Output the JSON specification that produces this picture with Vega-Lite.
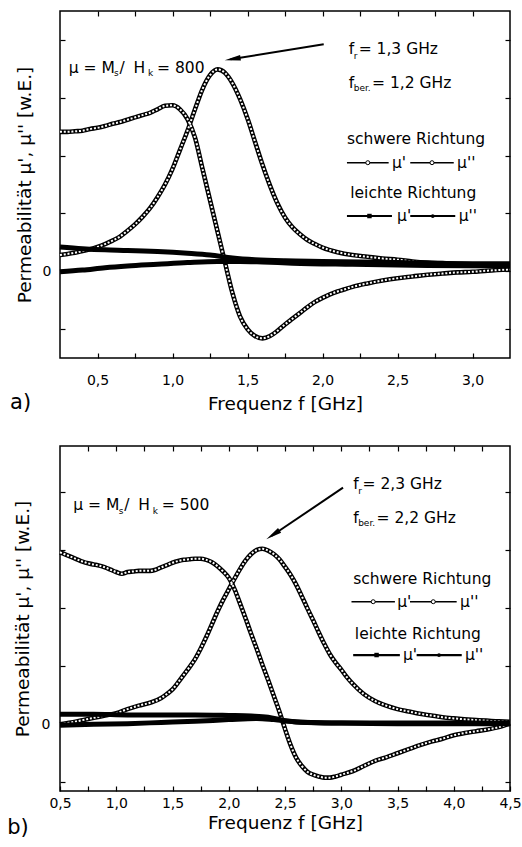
{
"$schema": "https://vega.github.io/schema/vega-lite/v6.json",
"padding": {"left": 6, "top": 9, "right": 5, "bottom": 5},
"autosize": {"type": "pad"},
"bounds": "flush",
"spacing": 88,
"config": {
  "font": "DejaVu Sans",
  "view": {"stroke": "black", "strokeWidth": 1.5},
  "axis": {"domain": false, "grid": false, "tickColor": "black", "tickWidth": 1.2, "tickSize": -5, "labelColor": "black", "titleColor": "black", "labelFontSize": 14, "titleFontSize": 18.5, "titleFontWeight": "normal", "labelFlush": false, "labelOverlap": false},
  "text": {"color": "black"}
},
"datasets": {
  "a_s": [
    {"c":"m1","f":0.25,"v":2.41},{"c":"m1","f":0.30,"v":2.41},{"c":"m1","f":0.35,"v":2.42},{"c":"m1","f":0.40,"v":2.43},{"c":"m1","f":0.45,"v":2.46},{"c":"m1","f":0.50,"v":2.48},{"c":"m1","f":0.55,"v":2.51},{"c":"m1","f":0.60,"v":2.55},{"c":"m1","f":0.65,"v":2.58},{"c":"m1","f":0.70,"v":2.62},{"c":"m1","f":0.75,"v":2.66},{"c":"m1","f":0.80,"v":2.70},{"c":"m1","f":0.85,"v":2.74},{"c":"m1","f":0.90,"v":2.80},{"c":"m1","f":0.95,"v":2.86},{"c":"m1","f":1.00,"v":2.87},{"c":"m1","f":1.05,"v":2.80},{"c":"m1","f":1.10,"v":2.63},{"c":"m1","f":1.15,"v":2.31},{"c":"m1","f":1.20,"v":1.77},{"c":"m1","f":1.25,"v":1.23},{"c":"m1","f":1.30,"v":0.69},{"c":"m1","f":1.35,"v":0.15},{"c":"m1","f":1.40,"v":-0.38},{"c":"m1","f":1.45,"v":-0.78},{"c":"m1","f":1.50,"v":-1.00},{"c":"m1","f":1.55,"v":-1.12},{"c":"m1","f":1.60,"v":-1.16},{"c":"m1","f":1.65,"v":-1.12},{"c":"m1","f":1.70,"v":-1.03},{"c":"m1","f":1.75,"v":-0.92},{"c":"m1","f":1.80,"v":-0.82},{"c":"m1","f":1.85,"v":-0.72},{"c":"m1","f":1.90,"v":-0.62},{"c":"m1","f":1.95,"v":-0.53},{"c":"m1","f":2.00,"v":-0.46},{"c":"m1","f":2.05,"v":-0.40},{"c":"m1","f":2.10,"v":-0.35},{"c":"m1","f":2.15,"v":-0.31},{"c":"m1","f":2.20,"v":-0.27},{"c":"m1","f":2.30,"v":-0.21},{"c":"m1","f":2.40,"v":-0.16},{"c":"m1","f":2.50,"v":-0.12},{"c":"m1","f":2.60,"v":-0.09},{"c":"m1","f":2.70,"v":-0.06},{"c":"m1","f":2.80,"v":-0.04},{"c":"m1","f":2.90,"v":-0.02},{"c":"m1","f":3.00,"v":-0.01},{"c":"m1","f":3.10,"v":0.01},{"c":"m1","f":3.25,"v":0.03},
    {"c":"m2","f":0.25,"v":0.28},{"c":"m2","f":0.30,"v":0.30},{"c":"m2","f":0.35,"v":0.32},{"c":"m2","f":0.40,"v":0.35},{"c":"m2","f":0.45,"v":0.38},{"c":"m2","f":0.50,"v":0.42},{"c":"m2","f":0.55,"v":0.47},{"c":"m2","f":0.60,"v":0.53},{"c":"m2","f":0.65,"v":0.60},{"c":"m2","f":0.70,"v":0.70},{"c":"m2","f":0.75,"v":0.81},{"c":"m2","f":0.80,"v":0.94},{"c":"m2","f":0.85,"v":1.09},{"c":"m2","f":0.90,"v":1.28},{"c":"m2","f":0.95,"v":1.50},{"c":"m2","f":1.00,"v":1.77},{"c":"m2","f":1.05,"v":2.10},{"c":"m2","f":1.10,"v":2.43},{"c":"m2","f":1.15,"v":2.80},{"c":"m2","f":1.20,"v":3.15},{"c":"m2","f":1.25,"v":3.39},{"c":"m2","f":1.30,"v":3.49},{"c":"m2","f":1.35,"v":3.43},{"c":"m2","f":1.40,"v":3.25},{"c":"m2","f":1.45,"v":2.98},{"c":"m2","f":1.50,"v":2.64},{"c":"m2","f":1.55,"v":2.24},{"c":"m2","f":1.60,"v":1.84},{"c":"m2","f":1.65,"v":1.48},{"c":"m2","f":1.70,"v":1.17},{"c":"m2","f":1.75,"v":0.93},{"c":"m2","f":1.80,"v":0.76},{"c":"m2","f":1.85,"v":0.64},{"c":"m2","f":1.90,"v":0.54},{"c":"m2","f":1.95,"v":0.47},{"c":"m2","f":2.00,"v":0.41},{"c":"m2","f":2.10,"v":0.33},{"c":"m2","f":2.20,"v":0.28},{"c":"m2","f":2.30,"v":0.25},{"c":"m2","f":2.40,"v":0.22},{"c":"m2","f":2.50,"v":0.20},{"c":"m2","f":2.60,"v":0.17},{"c":"m2","f":2.70,"v":0.15},{"c":"m2","f":2.80,"v":0.14},{"c":"m2","f":2.90,"v":0.13},{"c":"m2","f":3.00,"v":0.12},{"c":"m2","f":3.10,"v":0.10},{"c":"m2","f":3.25,"v":0.09}
  ],
  "a_l": [
    {"c":"l1","f":0.25,"v":0.42},{"c":"l1","f":0.40,"v":0.39},{"c":"l1","f":0.55,"v":0.37},{"c":"l1","f":0.70,"v":0.36},{"c":"l1","f":0.90,"v":0.34},{"c":"l1","f":1.10,"v":0.31},{"c":"l1","f":1.25,"v":0.28},{"c":"l1","f":1.40,"v":0.23},{"c":"l1","f":1.55,"v":0.20},{"c":"l1","f":1.75,"v":0.18},{"c":"l1","f":2.00,"v":0.17},{"c":"l1","f":2.50,"v":0.15},{"c":"l1","f":3.00,"v":0.13},{"c":"l1","f":3.25,"v":0.13},
    {"c":"l2","f":0.25,"v":-0.01},{"c":"l2","f":0.40,"v":0.02},{"c":"l2","f":0.55,"v":0.06},{"c":"l2","f":0.70,"v":0.09},{"c":"l2","f":0.90,"v":0.12},{"c":"l2","f":1.10,"v":0.15},{"c":"l2","f":1.30,"v":0.17},{"c":"l2","f":1.45,"v":0.17},{"c":"l2","f":1.60,"v":0.16},{"c":"l2","f":1.80,"v":0.14},{"c":"l2","f":2.20,"v":0.12},{"c":"l2","f":2.70,"v":0.10},{"c":"l2","f":3.25,"v":0.09}
  ],
  "a_txt": [
    {"f":0.308,"v":3.433,"t":"μ = M"},{"f":0.647,"v":3.433,"t":"/"},{"f":0.74,"v":3.433,"t":"H"},{"f":0.897,"v":3.433,"t":"= 800"},
    {"f":2.175,"v":3.751,"t":"f"},{"f":2.241,"v":3.751,"t":"= 1,3 GHz"},
    {"f":2.175,"v":3.174,"t":"f"},{"f":2.33,"v":3.174,"t":"= 1,2 GHz"},
    {"f":2.163,"v":2.195,"t":"schwere Richtung"},{"f":2.463,"v":1.791,"t":"μ'"},{"f":2.897,"v":1.791,"t":"μ''"},
    {"f":2.185,"v":1.272,"t":"leichte Richtung"},{"f":2.497,"v":0.869,"t":"μ'"},{"f":2.908,"v":0.869,"t":"μ''"}
  ],
  "a_sub": [
    {"f":0.61,"v":3.368,"t":"s"},{"f":0.837,"v":3.368,"t":"k"},{"f":2.208,"v":3.665,"t":"r"},{"f":2.208,"v":3.117,"t":"ber."}
  ],
  "a_lab": [{"f":-0.083,"v":-2.382,"t":"a)"}],
  "a_rs": [{"f":2.163,"f2":2.441,"v":1.877},{"f":2.585,"f2":2.875,"v":1.877}],
  "a_rl": [{"f":2.163,"f2":2.463,"v":0.955},{"f":2.585,"f2":2.885,"v":0.955}],
  "a_circ": [{"f":2.302,"v":1.877},{"f":2.73,"v":1.877}],
  "a_sq": [{"f":2.313,"v":0.955}],
  "a_dot": [{"f":2.735,"v":0.955}],
  "a_arrow": [{"f":2.008,"v":3.924,"f2":1.387,"v2":3.665}],
  "a_tip": [{"f":1.348,"v":3.648}],
  "b_s": [
    {"c":"m1","f":0.50,"v":2.96},{"c":"m1","f":0.55,"v":2.92},{"c":"m1","f":0.60,"v":2.88},{"c":"m1","f":0.65,"v":2.84},{"c":"m1","f":0.70,"v":2.80},{"c":"m1","f":0.75,"v":2.77},{"c":"m1","f":0.80,"v":2.75},{"c":"m1","f":0.85,"v":2.73},{"c":"m1","f":0.90,"v":2.70},{"c":"m1","f":0.95,"v":2.66},{"c":"m1","f":1.00,"v":2.62},{"c":"m1","f":1.05,"v":2.59},{"c":"m1","f":1.10,"v":2.62},{"c":"m1","f":1.15,"v":2.63},{"c":"m1","f":1.20,"v":2.64},{"c":"m1","f":1.25,"v":2.64},{"c":"m1","f":1.30,"v":2.64},{"c":"m1","f":1.35,"v":2.66},{"c":"m1","f":1.40,"v":2.70},{"c":"m1","f":1.45,"v":2.74},{"c":"m1","f":1.50,"v":2.78},{"c":"m1","f":1.55,"v":2.81},{"c":"m1","f":1.60,"v":2.83},{"c":"m1","f":1.65,"v":2.84},{"c":"m1","f":1.70,"v":2.85},{"c":"m1","f":1.75,"v":2.85},{"c":"m1","f":1.80,"v":2.83},{"c":"m1","f":1.85,"v":2.79},{"c":"m1","f":1.90,"v":2.72},{"c":"m1","f":1.95,"v":2.63},{"c":"m1","f":2.00,"v":2.52},{"c":"m1","f":2.05,"v":2.33},{"c":"m1","f":2.10,"v":2.08},{"c":"m1","f":2.15,"v":1.82},{"c":"m1","f":2.20,"v":1.55},{"c":"m1","f":2.25,"v":1.29},{"c":"m1","f":2.30,"v":1.02},{"c":"m1","f":2.35,"v":0.76},{"c":"m1","f":2.40,"v":0.49},{"c":"m1","f":2.45,"v":0.22},{"c":"m1","f":2.50,"v":-0.08},{"c":"m1","f":2.55,"v":-0.36},{"c":"m1","f":2.60,"v":-0.58},{"c":"m1","f":2.65,"v":-0.72},{"c":"m1","f":2.70,"v":-0.82},{"c":"m1","f":2.75,"v":-0.87},{"c":"m1","f":2.80,"v":-0.90},{"c":"m1","f":2.85,"v":-0.92},{"c":"m1","f":2.90,"v":-0.92},{"c":"m1","f":2.95,"v":-0.90},{"c":"m1","f":3.00,"v":-0.87},{"c":"m1","f":3.10,"v":-0.81},{"c":"m1","f":3.20,"v":-0.72},{"c":"m1","f":3.30,"v":-0.63},{"c":"m1","f":3.40,"v":-0.57},{"c":"m1","f":3.50,"v":-0.50},{"c":"m1","f":3.60,"v":-0.43},{"c":"m1","f":3.70,"v":-0.36},{"c":"m1","f":3.80,"v":-0.30},{"c":"m1","f":3.90,"v":-0.25},{"c":"m1","f":4.00,"v":-0.19},{"c":"m1","f":4.10,"v":-0.15},{"c":"m1","f":4.20,"v":-0.12},{"c":"m1","f":4.30,"v":-0.09},{"c":"m1","f":4.40,"v":-0.05},{"c":"m1","f":4.50,"v":0.01},
    {"c":"m2","f":0.50,"v":0.00},{"c":"m2","f":0.60,"v":0.03},{"c":"m2","f":0.70,"v":0.07},{"c":"m2","f":0.80,"v":0.11},{"c":"m2","f":0.90,"v":0.15},{"c":"m2","f":1.00,"v":0.19},{"c":"m2","f":1.10,"v":0.26},{"c":"m2","f":1.20,"v":0.32},{"c":"m2","f":1.30,"v":0.37},{"c":"m2","f":1.40,"v":0.45},{"c":"m2","f":1.45,"v":0.52},{"c":"m2","f":1.50,"v":0.60},{"c":"m2","f":1.55,"v":0.72},{"c":"m2","f":1.60,"v":0.85},{"c":"m2","f":1.65,"v":0.98},{"c":"m2","f":1.70,"v":1.12},{"c":"m2","f":1.75,"v":1.30},{"c":"m2","f":1.80,"v":1.50},{"c":"m2","f":1.85,"v":1.72},{"c":"m2","f":1.90,"v":1.94},{"c":"m2","f":1.95,"v":2.14},{"c":"m2","f":2.00,"v":2.32},{"c":"m2","f":2.05,"v":2.50},{"c":"m2","f":2.10,"v":2.67},{"c":"m2","f":2.15,"v":2.82},{"c":"m2","f":2.20,"v":2.93},{"c":"m2","f":2.25,"v":3.00},{"c":"m2","f":2.30,"v":3.02},{"c":"m2","f":2.35,"v":2.99},{"c":"m2","f":2.40,"v":2.93},{"c":"m2","f":2.45,"v":2.84},{"c":"m2","f":2.50,"v":2.71},{"c":"m2","f":2.55,"v":2.57},{"c":"m2","f":2.60,"v":2.40},{"c":"m2","f":2.65,"v":2.20},{"c":"m2","f":2.70,"v":1.99},{"c":"m2","f":2.75,"v":1.79},{"c":"m2","f":2.80,"v":1.58},{"c":"m2","f":2.85,"v":1.38},{"c":"m2","f":2.90,"v":1.20},{"c":"m2","f":2.95,"v":1.06},{"c":"m2","f":3.00,"v":0.94},{"c":"m2","f":3.05,"v":0.81},{"c":"m2","f":3.10,"v":0.70},{"c":"m2","f":3.20,"v":0.52},{"c":"m2","f":3.30,"v":0.40},{"c":"m2","f":3.40,"v":0.32},{"c":"m2","f":3.50,"v":0.26},{"c":"m2","f":3.60,"v":0.22},{"c":"m2","f":3.70,"v":0.18},{"c":"m2","f":3.80,"v":0.15},{"c":"m2","f":3.90,"v":0.12},{"c":"m2","f":4.00,"v":0.10},{"c":"m2","f":4.20,"v":0.07},{"c":"m2","f":4.40,"v":0.05},{"c":"m2","f":4.50,"v":0.04}
  ],
  "b_l": [
    {"c":"l1","f":0.50,"v":0.17},{"c":"l1","f":0.80,"v":0.17},{"c":"l1","f":1.10,"v":0.16},{"c":"l1","f":1.40,"v":0.16},{"c":"l1","f":1.70,"v":0.16},{"c":"l1","f":2.00,"v":0.15},{"c":"l1","f":2.20,"v":0.14},{"c":"l1","f":2.35,"v":0.12},{"c":"l1","f":2.50,"v":0.06},{"c":"l1","f":2.70,"v":0.03},{"c":"l1","f":3.00,"v":0.02},{"c":"l1","f":3.50,"v":0.02},{"c":"l1","f":4.00,"v":0.02},{"c":"l1","f":4.50,"v":0.02},
    {"c":"l2","f":0.50,"v":-0.02},{"c":"l2","f":0.80,"v":0.00},{"c":"l2","f":1.10,"v":0.01},{"c":"l2","f":1.40,"v":0.03},{"c":"l2","f":1.70,"v":0.05},{"c":"l2","f":2.00,"v":0.08},{"c":"l2","f":2.25,"v":0.10},{"c":"l2","f":2.40,"v":0.08},{"c":"l2","f":2.60,"v":0.04},{"c":"l2","f":3.00,"v":0.02},{"c":"l2","f":3.50,"v":0.01},{"c":"l2","f":4.00,"v":0.01},{"c":"l2","f":4.50,"v":0.01}
  ],
  "b_txt": [
    {"f":0.618,"v":3.683,"t":"μ = M"},{"f":1.071,"v":3.683,"t":"/"},{"f":1.195,"v":3.683,"t":"H"},{"f":1.405,"v":3.683,"t":"= 500"},
    {"f":3.106,"v":4.044,"t":"f"},{"f":3.189,"v":4.044,"t":"= 2,3 GHz"},
    {"f":3.106,"v":3.469,"t":"f"},{"f":3.314,"v":3.469,"t":"= 2,2 GHz"},
    {"f":3.106,"v":2.409,"t":"schwere Richtung"},{"f":3.497,"v":2.023,"t":"μ'"},{"f":4.056,"v":2.023,"t":"μ''"},
    {"f":3.121,"v":1.462,"t":"leichte Richtung"},{"f":3.548,"v":1.105,"t":"μ'"},{"f":4.1,"v":1.105,"t":"μ''"}
  ],
  "b_sub": [
    {"f":1.022,"v":3.617,"t":"s"},{"f":1.325,"v":3.617,"t":"k"},{"f":3.15,"v":3.958,"t":"r"},{"f":3.15,"v":3.413,"t":"ber."}
  ],
  "b_lab": [{"f":0.031,"v":-1.896,"t":"b)"}],
  "b_rs": [{"f":3.091,"f2":3.477,"v":2.109},{"f":3.611,"f2":4.026,"v":2.109}],
  "b_rl": [{"f":3.106,"f2":3.521,"v":1.191},{"f":3.67,"f2":4.071,"v":1.191}],
  "b_circ": [{"f":3.284,"v":2.109},{"f":3.818,"v":2.109}],
  "b_sq": [{"f":3.314,"v":1.191}],
  "b_dot": [{"f":3.869,"v":1.191}],
  "b_arrow": [{"f":3.016,"v":4.072,"f2":2.379,"v2":3.24}],
  "b_tip": [{"f":2.334,"v":3.184}]
},
"vconcat": [
{
  "width": 450, "height": 347,
  "resolve": {"axis": {"x": "independent", "y": "independent"}},
  "layer": [
    {"data": {"name": "a_s"}, "mark": {"type": "line", "color": "black", "strokeWidth": 4.6, "interpolate": "monotone"},
     "encoding": {
       "x": {"field": "f", "type": "quantitative", "scale": {"domain": [0.25, 3.25], "nice": false, "zero": false},
             "axis": {"orient": "bottom", "title": "Frequenz f [GHz]", "values": [0.5,0.75,1,1.25,1.5,1.75,2,2.25,2.5,2.75,3], "labelExpr": "(datum.value*4)%2==0 ? replace(format(datum.value,'.1f'),'.',',') : ''", "labelPadding": 20, "titlePadding": 7}},
       "y": {"field": "v", "type": "quantitative", "scale": {"domain": [-1.5, 4.5], "nice": false, "zero": false},
             "axis": {"orient": "left", "title": "Permeabilität μ', μ'' [w.E.]", "values": [-1,0,1,2,3,4], "labelExpr": "datum.value==0 ? '0' : ''", "labelPadding": 14, "titlePadding": 8}},
       "detail": {"field": "c"}}},
    {"data": {"name": "a_s"}, "mark": {"type": "line", "color": "white", "strokeWidth": 2, "strokeDash": [2, 1.8], "interpolate": "monotone"},
     "encoding": {
       "x": {"field": "f", "type": "quantitative", "scale": {"domain": [0.25, 3.25], "nice": false, "zero": false}, "axis": null},
       "y": {"field": "v", "type": "quantitative", "scale": {"domain": [-1.5, 4.5], "nice": false, "zero": false}, "axis": null},
       "detail": {"field": "c"}}},
    {"data": {"name": "a_l"}, "mark": {"type": "line", "color": "black", "strokeWidth": 5, "interpolate": "monotone"},
     "encoding": {
       "x": {"field": "f", "type": "quantitative", "scale": {"domain": [0.25, 3.25], "nice": false, "zero": false}, "axis": null},
       "y": {"field": "v", "type": "quantitative", "scale": {"domain": [-1.5, 4.5], "nice": false, "zero": false}, "axis": null},
       "detail": {"field": "c"}}},
    {"data": {"name": "a_rs"}, "mark": {"type": "rule", "color": "black", "strokeWidth": 1.5},
     "encoding": {
       "x": {"field": "f", "type": "quantitative", "scale": {"domain": [0.25, 3.25], "nice": false, "zero": false}, "axis": null},
       "x2": {"field": "f2"},
       "y": {"field": "v", "type": "quantitative", "scale": {"domain": [-1.5, 4.5], "nice": false, "zero": false}, "axis": null}}},
    {"data": {"name": "a_rl"}, "mark": {"type": "rule", "color": "black", "strokeWidth": 2.2},
     "encoding": {
       "x": {"field": "f", "type": "quantitative", "scale": {"domain": [0.25, 3.25], "nice": false, "zero": false}, "axis": null},
       "x2": {"field": "f2"},
       "y": {"field": "v", "type": "quantitative", "scale": {"domain": [-1.5, 4.5], "nice": false, "zero": false}, "axis": null}}},
    {"data": {"name": "a_circ"}, "mark": {"type": "point", "shape": "circle", "filled": true, "fill": "white", "stroke": "black", "strokeWidth": 1, "size": 16, "opacity": 1},
     "encoding": {
       "x": {"field": "f", "type": "quantitative", "scale": {"domain": [0.25, 3.25], "nice": false, "zero": false}, "axis": null},
       "y": {"field": "v", "type": "quantitative", "scale": {"domain": [-1.5, 4.5], "nice": false, "zero": false}, "axis": null}}},
    {"data": {"name": "a_sq"}, "mark": {"type": "point", "shape": "square", "filled": true, "color": "black", "size": 20, "opacity": 1},
     "encoding": {
       "x": {"field": "f", "type": "quantitative", "scale": {"domain": [0.25, 3.25], "nice": false, "zero": false}, "axis": null},
       "y": {"field": "v", "type": "quantitative", "scale": {"domain": [-1.5, 4.5], "nice": false, "zero": false}, "axis": null}}},
    {"data": {"name": "a_dot"}, "mark": {"type": "point", "shape": "circle", "filled": true, "color": "black", "size": 14, "opacity": 1},
     "encoding": {
       "x": {"field": "f", "type": "quantitative", "scale": {"domain": [0.25, 3.25], "nice": false, "zero": false}, "axis": null},
       "y": {"field": "v", "type": "quantitative", "scale": {"domain": [-1.5, 4.5], "nice": false, "zero": false}, "axis": null}}},
    {"data": {"name": "a_arrow"}, "mark": {"type": "rule", "color": "black", "strokeWidth": 2},
     "encoding": {
       "x": {"field": "f", "type": "quantitative", "scale": {"domain": [0.25, 3.25], "nice": false, "zero": false}, "axis": null},
       "x2": {"field": "f2"},
       "y": {"field": "v", "type": "quantitative", "scale": {"domain": [-1.5, 4.5], "nice": false, "zero": false}, "axis": null},
       "y2": {"field": "v2"}}},
    {"data": {"name": "a_tip"}, "mark": {"type": "point", "shape": "M0,0L-0.35,2L0.35,2Z", "filled": true, "color": "black", "size": 256, "angle": 261, "opacity": 1},
     "encoding": {
       "x": {"field": "f", "type": "quantitative", "scale": {"domain": [0.25, 3.25], "nice": false, "zero": false}, "axis": null},
       "y": {"field": "v", "type": "quantitative", "scale": {"domain": [-1.5, 4.5], "nice": false, "zero": false}, "axis": null}}},
    {"data": {"name": "a_sub"}, "mark": {"type": "text", "align": "left", "baseline": "alphabetic", "fontSize": 9},
     "encoding": {
       "x": {"field": "f", "type": "quantitative", "scale": {"domain": [0.25, 3.25], "nice": false, "zero": false}, "axis": null},
       "y": {"field": "v", "type": "quantitative", "scale": {"domain": [-1.5, 4.5], "nice": false, "zero": false}, "axis": null},
       "text": {"field": "t"}}},
    {"data": {"name": "a_lab"}, "mark": {"type": "text", "align": "left", "baseline": "alphabetic", "fontSize": 21},
     "encoding": {
       "x": {"field": "f", "type": "quantitative", "scale": {"domain": [0.25, 3.25], "nice": false, "zero": false}, "axis": null},
       "y": {"field": "v", "type": "quantitative", "scale": {"domain": [-1.5, 4.5], "nice": false, "zero": false}, "axis": null},
       "text": {"field": "t"}}},
    {"data": {"name": "a_txt"}, "mark": {"type": "text", "align": "left", "baseline": "alphabetic", "fontSize": 15.5},
     "encoding": {
       "x": {"field": "f", "type": "quantitative", "scale": {"domain": [0.25, 3.25], "nice": false, "zero": false},
             "axis": {"orient": "top", "title": null, "labels": false, "values": [0.5,0.75,1,1.25,1.5,1.75,2,2.25,2.5,2.75,3]}},
       "y": {"field": "v", "type": "quantitative", "scale": {"domain": [-1.5, 4.5], "nice": false, "zero": false},
             "axis": {"orient": "right", "title": null, "labels": false, "values": [-1,0,1,2,3,4]}},
       "text": {"field": "t"}}}
  ]
},
{
  "width": 450, "height": 345,
  "resolve": {"axis": {"x": "independent", "y": "independent"}},
  "layer": [
    {"data": {"name": "b_s"}, "mark": {"type": "line", "color": "black", "strokeWidth": 4.6, "interpolate": "monotone"},
     "encoding": {
       "x": {"field": "f", "type": "quantitative", "scale": {"domain": [0.5, 4.5], "nice": false, "zero": false},
             "axis": {"orient": "bottom", "title": "Frequenz f [GHz]", "values": [0.5,0.75,1,1.25,1.5,1.75,2,2.25,2.5,2.75,3,3.25,3.5,3.75,4,4.25,4.5], "labelExpr": "(datum.value*4)%2==0 ? replace(format(datum.value,'.1f'),'.',',') : ''", "labelPadding": 10, "titlePadding": 3}},
       "y": {"field": "v", "type": "quantitative", "scale": {"domain": [-1.15, 4.79], "nice": false, "zero": false},
             "axis": {"orient": "left", "title": "Permeabilität μ', μ'' [w.E.]", "values": [-1,0,1,2,3,4], "labelExpr": "datum.value==0 ? '0' : ''", "labelPadding": 15, "titlePadding": 9}},
       "detail": {"field": "c"}}},
    {"data": {"name": "b_s"}, "mark": {"type": "line", "color": "white", "strokeWidth": 2, "strokeDash": [2, 1.8], "interpolate": "monotone"},
     "encoding": {
       "x": {"field": "f", "type": "quantitative", "scale": {"domain": [0.5, 4.5], "nice": false, "zero": false}, "axis": null},
       "y": {"field": "v", "type": "quantitative", "scale": {"domain": [-1.15, 4.79], "nice": false, "zero": false}, "axis": null},
       "detail": {"field": "c"}}},
    {"data": {"name": "b_l"}, "mark": {"type": "line", "color": "black", "strokeWidth": 5, "interpolate": "monotone"},
     "encoding": {
       "x": {"field": "f", "type": "quantitative", "scale": {"domain": [0.5, 4.5], "nice": false, "zero": false}, "axis": null},
       "y": {"field": "v", "type": "quantitative", "scale": {"domain": [-1.15, 4.79], "nice": false, "zero": false}, "axis": null},
       "detail": {"field": "c"}}},
    {"data": {"name": "b_rs"}, "mark": {"type": "rule", "color": "black", "strokeWidth": 1.5},
     "encoding": {
       "x": {"field": "f", "type": "quantitative", "scale": {"domain": [0.5, 4.5], "nice": false, "zero": false}, "axis": null},
       "x2": {"field": "f2"},
       "y": {"field": "v", "type": "quantitative", "scale": {"domain": [-1.15, 4.79], "nice": false, "zero": false}, "axis": null}}},
    {"data": {"name": "b_rl"}, "mark": {"type": "rule", "color": "black", "strokeWidth": 2.2},
     "encoding": {
       "x": {"field": "f", "type": "quantitative", "scale": {"domain": [0.5, 4.5], "nice": false, "zero": false}, "axis": null},
       "x2": {"field": "f2"},
       "y": {"field": "v", "type": "quantitative", "scale": {"domain": [-1.15, 4.79], "nice": false, "zero": false}, "axis": null}}},
    {"data": {"name": "b_circ"}, "mark": {"type": "point", "shape": "circle", "filled": true, "fill": "white", "stroke": "black", "strokeWidth": 1, "size": 16, "opacity": 1},
     "encoding": {
       "x": {"field": "f", "type": "quantitative", "scale": {"domain": [0.5, 4.5], "nice": false, "zero": false}, "axis": null},
       "y": {"field": "v", "type": "quantitative", "scale": {"domain": [-1.15, 4.79], "nice": false, "zero": false}, "axis": null}}},
    {"data": {"name": "b_sq"}, "mark": {"type": "point", "shape": "square", "filled": true, "color": "black", "size": 20, "opacity": 1},
     "encoding": {
       "x": {"field": "f", "type": "quantitative", "scale": {"domain": [0.5, 4.5], "nice": false, "zero": false}, "axis": null},
       "y": {"field": "v", "type": "quantitative", "scale": {"domain": [-1.15, 4.79], "nice": false, "zero": false}, "axis": null}}},
    {"data": {"name": "b_dot"}, "mark": {"type": "point", "shape": "circle", "filled": true, "color": "black", "size": 14, "opacity": 1},
     "encoding": {
       "x": {"field": "f", "type": "quantitative", "scale": {"domain": [0.5, 4.5], "nice": false, "zero": false}, "axis": null},
       "y": {"field": "v", "type": "quantitative", "scale": {"domain": [-1.15, 4.79], "nice": false, "zero": false}, "axis": null}}},
    {"data": {"name": "b_arrow"}, "mark": {"type": "rule", "color": "black", "strokeWidth": 2},
     "encoding": {
       "x": {"field": "f", "type": "quantitative", "scale": {"domain": [0.5, 4.5], "nice": false, "zero": false}, "axis": null},
       "x2": {"field": "f2"},
       "y": {"field": "v", "type": "quantitative", "scale": {"domain": [-1.15, 4.79], "nice": false, "zero": false}, "axis": null},
       "y2": {"field": "v2"}}},
    {"data": {"name": "b_tip"}, "mark": {"type": "point", "shape": "M0,0L-0.35,2L0.35,2Z", "filled": true, "color": "black", "size": 256, "angle": 236, "opacity": 1},
     "encoding": {
       "x": {"field": "f", "type": "quantitative", "scale": {"domain": [0.5, 4.5], "nice": false, "zero": false}, "axis": null},
       "y": {"field": "v", "type": "quantitative", "scale": {"domain": [-1.15, 4.79], "nice": false, "zero": false}, "axis": null}}},
    {"data": {"name": "b_sub"}, "mark": {"type": "text", "align": "left", "baseline": "alphabetic", "fontSize": 9},
     "encoding": {
       "x": {"field": "f", "type": "quantitative", "scale": {"domain": [0.5, 4.5], "nice": false, "zero": false}, "axis": null},
       "y": {"field": "v", "type": "quantitative", "scale": {"domain": [-1.15, 4.79], "nice": false, "zero": false}, "axis": null},
       "text": {"field": "t"}}},
    {"data": {"name": "b_lab"}, "mark": {"type": "text", "align": "left", "baseline": "alphabetic", "fontSize": 21},
     "encoding": {
       "x": {"field": "f", "type": "quantitative", "scale": {"domain": [0.5, 4.5], "nice": false, "zero": false}, "axis": null},
       "y": {"field": "v", "type": "quantitative", "scale": {"domain": [-1.15, 4.79], "nice": false, "zero": false}, "axis": null},
       "text": {"field": "t"}}},
    {"data": {"name": "b_txt"}, "mark": {"type": "text", "align": "left", "baseline": "alphabetic", "fontSize": 15.5},
     "encoding": {
       "x": {"field": "f", "type": "quantitative", "scale": {"domain": [0.5, 4.5], "nice": false, "zero": false},
             "axis": {"orient": "top", "title": null, "labels": false, "values": [0.75,1,1.25,1.5,1.75,2,2.25,2.5,2.75,3,3.25,3.5,3.75,4,4.25]}},
       "y": {"field": "v", "type": "quantitative", "scale": {"domain": [-1.15, 4.79], "nice": false, "zero": false},
             "axis": {"orient": "right", "title": null, "labels": false, "values": [-1,0,1,2,3,4]}},
       "text": {"field": "t"}}}
  ]
}
]
}
